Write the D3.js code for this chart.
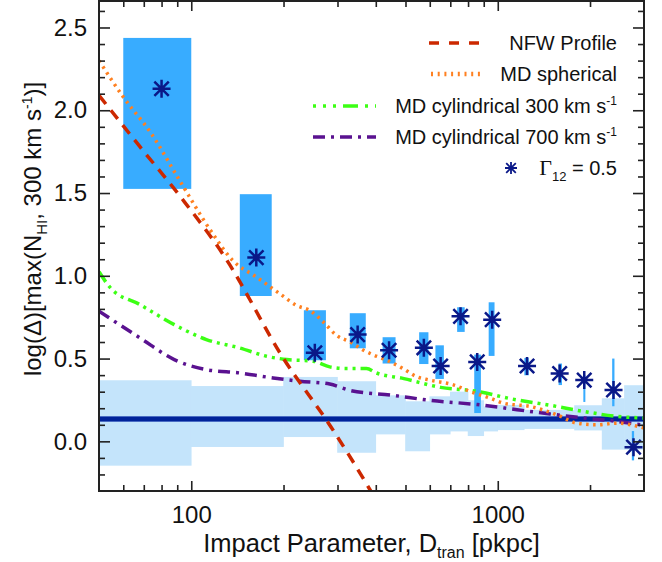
<!DOCTYPE html>
<html>
<head>
<meta charset="utf-8">
<script src="https://cdn.jsdelivr.net/npm/d3@7"></script>
<style>
    body { margin: 0; background: #fff; }
    text { font-family: "Liberation Sans", Arial, Helvetica, sans-serif; fill: #111; }
</style>
</head>
<body>
<div id="chart"></div>
<script>
const width = 662;
const height = 562;
const margin = { top: 1, right: 18, bottom: 71, left: 99 };

// background scatter band (step per bin)
const bandEdges = [50, 100, 200, 300, 400, 500, 600, 700, 800, 900, 1000, 1220, 1780, 2190, 2590, 3000];
const bandLo = [-0.147, -0.034, 0.026, -0.069, 0.042, -0.06, 0.042, 0.06, 0.032, 0.06, 0.068, 0.075, 0.066, -0.05, -0.05];
const bandHi = [0.369, 0.334, 0.389, 0.363, 0.278, 0.242, 0.272, 0.30, 0.248, 0.21, 0.22, 0.19, 0.218, 0.26, 0.339];
const bandMean = 0.135;

// Gamma_12 = 0.5 points
const starX = [80, 163, 253, 349, 442, 574, 651, 756, 857, 959, 1246, 1592, 1915, 2386, 2773];
const starY = [2.13, 1.11, 0.535, 0.645, 0.55, 0.565, 0.455, 0.755, 0.48, 0.735, 0.455, 0.41, 0.37, 0.31, -0.035];
const errX0 = [60, 144, 233, 329, 421, 554, 626, 737, 838, 934, 1221, 1579, 1902, 2362, 2738];
const errX1 = [100, 183, 275, 371, 464, 594, 667, 780, 881, 976, 1262, 1620, 1931, 2403, 2785];
const errLo = [1.525, 0.878, 0.49, 0.562, 0.47, 0.467, 0.377, 0.661, 0.171, 0.516, 0.399, 0.34, 0.238, 0.212, -0.115];
const errHi = [2.437, 1.493, 0.792, 0.774, 0.629, 0.659, 0.58, 0.81, 0.524, 0.84, 0.504, 0.47, 0.40, 0.50, 0.062];

// model curves
const nfwX = [50, 68, 92, 129, 200, 285, 385, 420];
const nfwY = [2.09, 1.78, 1.48, 1.11, 0.50, 0.09, -0.30, -0.42];

const sphX = [50, 60, 74, 92, 115, 137, 164, 195, 221, 244, 270, 298, 330, 365, 395, 435, 490, 545, 600, 720, 815, 947, 1046, 1280, 1560, 1810, 2100, 2450, 3000];
const sphY = [2.30, 2.08, 1.86, 1.57, 1.28, 1.09, 0.99, 0.89, 0.82, 0.79, 0.72, 0.64, 0.60, 0.55, 0.52, 0.49, 0.44, 0.39, 0.37, 0.34, 0.30, 0.26, 0.23, 0.21, 0.16, 0.11, 0.10, 0.11, 0.08];

const cyl300X = [50, 54.5, 68, 88, 112, 144, 176, 205, 250, 283, 321, 373, 402, 494, 651, 857, 1098, 1482, 1902, 2443, 3000];
const cyl300Y = [1.024, 0.927, 0.826, 0.705, 0.615, 0.564, 0.514, 0.494, 0.484, 0.45, 0.44, 0.44, 0.413, 0.379, 0.326, 0.302, 0.258, 0.218, 0.181, 0.151, 0.141];

const cyl700X = [50, 68, 88, 112, 144, 185, 226, 283, 329, 455, 599, 857, 1156, 1482, 1902, 2443, 3000];
const cyl700Y = [0.786, 0.625, 0.494, 0.433, 0.413, 0.383, 0.363, 0.346, 0.308, 0.278, 0.248, 0.222, 0.191, 0.165, 0.141, 0.121, 0.097];

const xMajor = [100, 1000];
const xMinor = [60, 70, 80, 90, 200, 300, 400, 500, 600, 700, 800, 900, 2000];
const yMajor = [0, 0.5, 1.0, 1.5, 2.0, 2.5];
const yMinor = [-0.2, -0.1, 0.1, 0.2, 0.3, 0.4, 0.6, 0.7, 0.8, 0.9, 1.1, 1.2, 1.3, 1.4, 1.6, 1.7, 1.8, 1.9, 2.1, 2.2, 2.3, 2.4, 2.6];

const svg = d3.select("#chart")
    .append("svg")
    .attr("width", width)
    .attr("height", height);

const x = d3.scaleLog()
    .domain([50, 3000])
    .range([margin.left, width - margin.right]);

const y = d3.scaleLinear()
    .domain([-0.3, 2.66])
    .range([height - margin.bottom, margin.top]);

svg.append("clipPath")
    .attr("id", "plotclip")
    .append("rect")
    .attr("x", margin.left)
    .attr("y", margin.top)
    .attr("width", width - margin.left - margin.right)
    .attr("height", height - margin.top - margin.bottom);

const plot = svg.append("g").attr("clip-path", "url(#plotclip)");

// band
plot.selectAll("rect.band")
    .data(bandLo)
    .enter()
    .append("rect")
    .attr("class", "band")
    .attr("x", (d, i) => x(bandEdges[i]) - 0.3)
    .attr("width", (d, i) => x(bandEdges[i + 1]) - x(bandEdges[i]) + 0.6)
    .attr("y", (d, i) => y(bandHi[i]))
    .attr("height", (d, i) => y(d) - y(bandHi[i]))
    .attr("fill", "#c4e4fb");

// error boxes
plot.selectAll("rect.err")
    .data(starX)
    .enter()
    .append("rect")
    .attr("class", "err")
    .attr("x", (d, i) => x(errX0[i]))
    .attr("width", (d, i) => x(errX1[i]) - x(errX0[i]))
    .attr("y", (d, i) => y(errHi[i]))
    .attr("height", (d, i) => y(errLo[i]) - y(errHi[i]))
    .attr("fill", "#38acff");

// mean line
plot.append("line")
    .attr("x1", x(50)).attr("x2", x(3000))
    .attr("y1", y(bandMean)).attr("y2", y(bandMean))
    .attr("stroke", "#4a6cc4")
    .attr("stroke-width", 6);
plot.append("line")
    .attr("x1", x(50)).attr("x2", x(3000))
    .attr("y1", y(bandMean)).attr("y2", y(bandMean))
    .attr("stroke", "#00239a")
    .attr("stroke-width", 4);

const line = d3.line()
    .x(d => x(d[0]))
    .y(d => y(d[1]))
    .curve(d3.curveMonotoneX);

const curves = [
    { xs: cyl700X, ys: cyl700Y, color: "#5a1290", dash: "12,6,3,6", w: 3.5 },
    { xs: cyl300X, ys: cyl300Y, color: "#3cff14", dash: "12,5,3,5,3,5,3,5", w: 3.5 },
    { xs: sphX, ys: sphY, color: "#ff8020", dash: "2.5,4.5", w: 3.5 },
    { xs: nfwX, ys: nfwY, color: "#cc2800", dash: "11,8", w: 3.5 }
];

curves.forEach(c => {
    plot.append("path")
        .datum(c.xs.map((v, i) => [v, c.ys[i]]))
        .attr("d", line)
        .attr("fill", "none")
        .attr("stroke", c.color)
        .attr("stroke-width", c.w)
        .attr("stroke-dasharray", c.dash);
});

// asterisk marker
function star(r) {
    const d = r * 0.8;
    return `M${-r},0L${r},0M0,${-r}L0,${r}M${-d},${-d}L${d},${d}M${-d},${d}L${d},${-d}`;
}

plot.selectAll("path.star")
    .data(starX)
    .enter()
    .append("path")
    .attr("class", "star")
    .attr("transform", (d, i) => `translate(${x(d)},${y(starY[i])})`)
    .attr("d", star(9))
    .attr("fill", "none")
    .attr("stroke", "#0a1888")
    .attr("stroke-width", 2.5);

// axes, ticks pointing inward on all four sides
const axisStyle = g => {
    g.select(".domain").remove();
    g.selectAll(".tick line").attr("stroke", "#222").attr("stroke-width", 1.6);
};

const bottomY = height - margin.bottom;
const rightX = width - margin.right;

svg.append("g").attr("transform", `translate(0,${bottomY})`)
    .call(d3.axisBottom(x).tickValues(xMajor).tickSize(-10).tickFormat(d3.format("d")))
    .call(axisStyle)
    .call(g => g.selectAll(".tick text")
        .attr("y", 15).attr("dy", "0.71em")
        .attr("font-size", 24).attr("fill", "#111"));
svg.append("g").attr("transform", `translate(0,${bottomY})`)
    .call(d3.axisBottom(x).tickValues(xMinor).tickSize(-6).tickFormat(""))
    .call(axisStyle);
svg.append("g").attr("transform", `translate(0,${margin.top})`)
    .call(d3.axisTop(x).tickValues(xMajor).tickSize(-10).tickFormat(""))
    .call(axisStyle);
svg.append("g").attr("transform", `translate(0,${margin.top})`)
    .call(d3.axisTop(x).tickValues(xMinor).tickSize(-6).tickFormat(""))
    .call(axisStyle);

svg.append("g").attr("transform", `translate(${margin.left},0)`)
    .call(d3.axisLeft(y).tickValues(yMajor).tickSize(-11).tickFormat(d3.format(".1f")))
    .call(axisStyle)
    .call(g => g.selectAll(".tick text")
        .attr("x", -12)
        .attr("font-size", 24).attr("fill", "#111"));
svg.append("g").attr("transform", `translate(${margin.left},0)`)
    .call(d3.axisLeft(y).tickValues(yMinor).tickSize(-6).tickFormat(""))
    .call(axisStyle);
svg.append("g").attr("transform", `translate(${rightX},0)`)
    .call(d3.axisRight(y).tickValues(yMajor).tickSize(-11).tickFormat(""))
    .call(axisStyle);
svg.append("g").attr("transform", `translate(${rightX},0)`)
    .call(d3.axisRight(y).tickValues(yMinor).tickSize(-6).tickFormat(""))
    .call(axisStyle);

// frame
svg.append("rect")
    .attr("x", margin.left)
    .attr("y", margin.top)
    .attr("width", rightX - margin.left)
    .attr("height", bottomY - margin.top)
    .attr("fill", "none")
    .attr("stroke", "#222")
    .attr("stroke-width", 2);

// axis titles
const xt = svg.append("text")
    .attr("x", (margin.left + rightX) / 2)
    .attr("y", 552)
    .attr("text-anchor", "middle")
    .attr("font-size", 25.5);
xt.append("tspan").text("Impact Parameter, D");
xt.append("tspan").attr("font-size", 16).attr("dy", 6).text("tran");
xt.append("tspan").attr("dy", -6).text(" [pkpc]");

const yt = svg.append("text")
    .attr("transform", "translate(41,229) rotate(-90)")
    .attr("text-anchor", "middle")
    .attr("font-size", 24);
yt.append("tspan").text("log(Δ)[max(N");
yt.append("tspan").attr("font-size", 15).attr("dy", 6).text("HI");
yt.append("tspan").attr("dy", -6).text(", 300 km s");
yt.append("tspan").attr("font-size", 14).attr("dy", -9).text("-1");
yt.append("tspan").attr("dy", 9).text(")]");

// legend
const legend = svg.append("g").attr("font-size", 20);
const legendRows = [
    { y: 43, x1: 429, x2: 479, color: "#cc2800", dash: "10,10", w: 3.5 },
    { y: 74, x1: 431, x2: 481, color: "#ff8020", dash: "2,4.7", w: 4.5 },
    { y: 106, x1: 313, x2: 376, color: "#3cff14", dash: "3,7,3,7,3,7,12,0", w: 3.5 },
    { y: 137, x1: 313, x2: 376, color: "#5a1290", dash: "12,6,3,6", w: 3.5 }
];
legendRows.forEach(r => {
    legend.append("line")
        .attr("x1", r.x1).attr("x2", r.x2)
        .attr("y1", r.y).attr("y2", r.y)
        .attr("stroke", r.color)
        .attr("stroke-width", r.w)
        .attr("stroke-dasharray", r.dash);
});

const lx = 617;
legend.append("text").attr("x", lx).attr("y", 50).attr("text-anchor", "end").text("NFW Profile");
legend.append("text").attr("x", lx).attr("y", 81).attr("text-anchor", "end").text("MD spherical");

[["300", 113], ["700", 144]].forEach(([v, yy]) => {
    const t = legend.append("text").attr("x", lx).attr("y", yy).attr("text-anchor", "end");
    t.append("tspan").text(`MD cylindrical ${v} km s`);
    t.append("tspan").attr("font-size", 12).attr("dy", -8).text("-1");
});

legend.append("path")
    .attr("transform", "translate(511,168)")
    .attr("d", star(6))
    .attr("fill", "none")
    .attr("stroke", "#0a1888")
    .attr("stroke-width", 1.8);
const g12 = legend.append("text").attr("x", lx).attr("y", 175).attr("text-anchor", "end");
g12.append("tspan").attr("font-family", "'Liberation Serif', 'Times New Roman', serif").attr("font-size", 22).text("Γ");
g12.append("tspan").attr("font-size", 13).attr("dy", 6).text("12");
g12.append("tspan").attr("dy", -6).text(" = 0.5");
</script>
</body>
</html>
